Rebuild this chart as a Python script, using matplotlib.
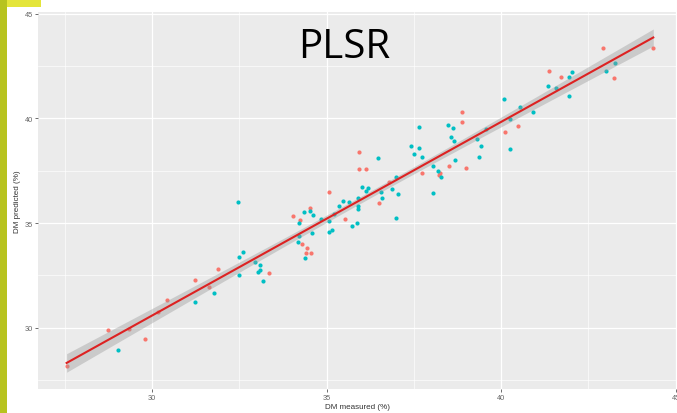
import numpy as np
import matplotlib
matplotlib.use("Agg")
import matplotlib.pyplot as plt
from matplotlib.patches import Rectangle

# ---- data ----
salmon_x = [27.55, 28.75, 29.81, 30.44, 31.22, 31.90, 31.64, 33.36, 34.05, 34.24,
            34.52, 34.29, 34.43, 34.40, 34.55, 35.08, 35.53, 35.94, 36.14, 35.93,
            36.50, 36.79, 37.72, 38.25, 38.22, 38.51, 38.99, 38.88, 38.89, 40.11,
            40.49, 41.38, 41.73, 42.93, 43.24, 44.36, 29.33, 30.16]
salmon_y = [28.17, 29.90, 29.47, 31.34, 32.29, 32.80, 31.94, 32.61, 35.32, 35.13,
            35.70, 33.99, 33.80, 33.58, 33.58, 36.47, 35.19, 37.60, 37.58, 38.40,
            35.96, 36.96, 37.39, 37.40, 37.30, 37.74, 37.65, 40.32, 39.81, 39.35,
            39.62, 42.24, 41.96, 43.37, 41.94, 43.37, 29.92, 30.74]

teal_x = [29.02, 31.23, 31.78, 32.49, 32.61, 32.49, 32.47, 32.95, 33.08, 33.08,
          33.03, 33.17, 34.22, 34.35, 34.52, 34.62, 34.20, 34.18, 34.38, 34.59,
          34.85, 35.06, 35.07, 35.15, 35.20, 35.35, 35.46, 35.64, 35.73, 35.86,
          35.91, 35.91, 35.89, 36.02, 36.14, 36.18, 36.47, 36.55, 36.60, 36.86,
          36.99, 37.05, 37.00, 37.42, 37.51, 37.65, 37.72, 37.66, 38.06, 38.04,
          38.20, 38.29, 38.68, 38.49, 38.63, 38.56, 38.64, 39.30, 39.41, 39.37,
          39.56, 40.09, 40.25, 40.26, 40.54, 40.91, 41.34, 41.57, 41.94, 42.02,
          41.94, 43.00, 43.26]
teal_y = [28.91, 31.22, 31.64, 33.37, 33.60, 32.51, 36.02, 33.16, 32.98, 32.76,
          32.65, 32.23, 34.99, 35.51, 35.57, 35.37, 34.38, 34.09, 33.31, 34.52,
          35.19, 35.11, 34.57, 34.68, 35.44, 35.81, 36.07, 36.00, 34.86, 35.00,
          35.81, 35.68, 36.18, 36.70, 36.51, 36.66, 38.09, 36.48, 36.18, 36.62,
          37.22, 36.38, 35.24, 38.68, 38.30, 38.57, 38.14, 39.59, 37.72, 36.42,
          37.47, 37.20, 37.99, 39.68, 39.54, 39.13, 38.94, 39.00, 38.69, 38.14,
          39.51, 40.90, 38.55, 39.95, 40.52, 40.32, 41.53, 41.44, 41.99, 42.20,
          41.08, 42.24, 42.64]

x_ticks = [30, 35, 40, 45]
y_ticks = [30, 35, 40, 45]
x_label = "DM measured (%)"
y_label = "DM predicted (%)"
title = "PLSR"

# ---- figure ----
W, H = 677, 414
fig = plt.figure(figsize=(W / 100, H / 100), dpi=100)
fig.patch.set_facecolor("white")

# decorative yellow bars
fig.add_artist(Rectangle((0, 0), 7 / W, 1, transform=fig.transFigure,
                         facecolor="#b7c31f", edgecolor="none", zorder=0))
fig.add_artist(Rectangle((7 / W, 1 - 8 / H), 34 / W, 8 / H, transform=fig.transFigure,
                         facecolor="#e4e53a", edgecolor="none", zorder=0))

ax = fig.add_axes([38 / W, 1 - 390 / H, 1 - 38 / W, (390 - 13) / H])
ax.set_facecolor("#EBEBEB")
for s in ax.spines.values():
    s.set_visible(False)

ax.set_xlim(26.73, 45.04)
ax.set_ylim(27.07, 45.08)
ax.set_xticks(x_ticks)
ax.set_yticks(y_ticks)
ax.set_xticks([27.5, 32.5, 37.5, 42.5], minor=True)
ax.set_yticks([27.5, 32.5, 37.5, 42.5], minor=True)
ax.grid(which="major", color="white", linewidth=0.9)
ax.grid(which="minor", color="white", linewidth=0.45)
ax.set_axisbelow(True)
ax.tick_params(which="major", length=2, width=0.5, color="#333333",
               labelsize=5.3, labelcolor="#666666", pad=1.5)
ax.tick_params(which="minor", length=0)
for lab in ax.get_xticklabels() + ax.get_yticklabels():
    lab.set_family("Liberation Sans")

ax.scatter(salmon_x, salmon_y, s=9, color="#F8766D", linewidths=0, zorder=2)
ax.scatter(teal_x, teal_y, s=9, color="#00BFC4", linewidths=0, zorder=2)

# linear fit with 95% confidence band (geom_smooth(method="lm"))
X = np.array(salmon_x + teal_x)
Y = np.array(salmon_y + teal_y)
n = len(X)
b1, b0 = np.polyfit(X, Y, 1)
resid = Y - (b0 + b1 * X)
s_err = np.sqrt(np.sum(resid ** 2) / (n - 2))
xs = np.linspace(X.min(), X.max(), 200)
ys = b0 + b1 * xs
se = s_err * np.sqrt(1 / n + (xs - X.mean()) ** 2 / np.sum((X - X.mean()) ** 2))
tq = 1.98
ax.fill_between(xs, ys - tq * se, ys + tq * se, color="#999999", alpha=0.4,
                linewidth=0, zorder=3)
ax.plot(xs, ys, color="#dd2222", linewidth=1.5, zorder=4)

ax.set_xlabel(x_label, fontsize=5.8, family="Liberation Sans", color="#333333", labelpad=1.5)
ax.set_ylabel(y_label, fontsize=5.8, family="Liberation Sans", color="#333333", labelpad=3)

fig.text(344 / W, 1 - 48 / H, title, fontsize=29, family="Open Sans",
         ha="center", va="center", color="black")

fig.savefig("out.png", dpi=100)
